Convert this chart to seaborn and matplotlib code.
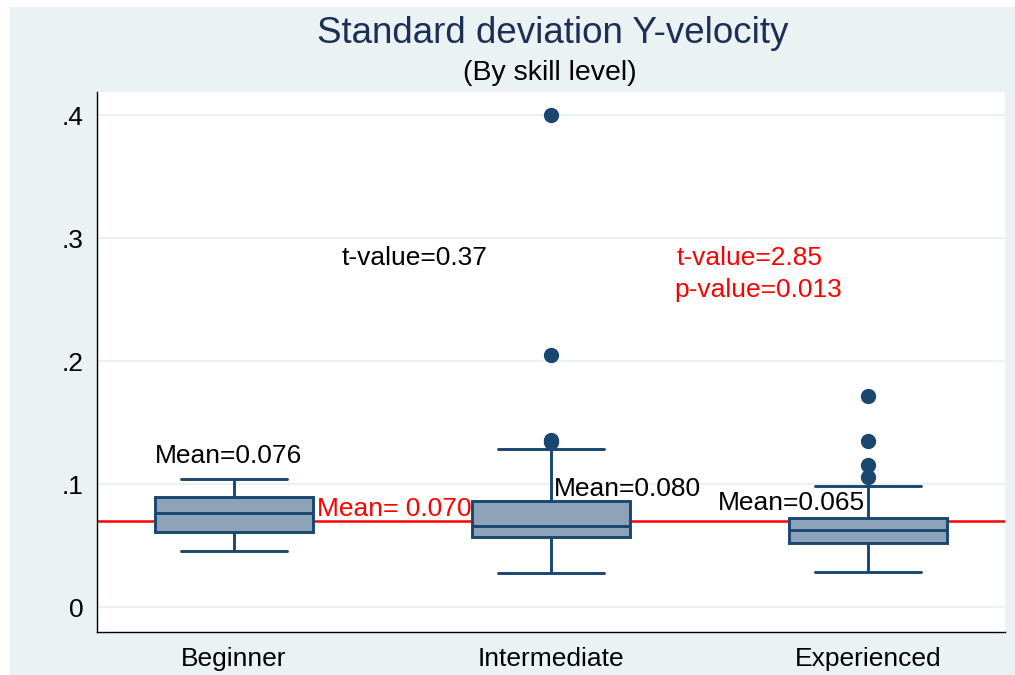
import matplotlib
matplotlib.use("Agg")
import matplotlib.pyplot as plt
from matplotlib.patches import Rectangle
import seaborn as sns
import pandas as pd

# skill levels and per-group values
levels = ["Beginner", "Intermediate", "Experienced"]
beginner = [0.0453, 0.055, 0.061, 0.070, 0.0767, 0.082, 0.0892, 0.097, 0.1043]
intermediate = [0.0276, 0.035, 0.042, 0.048, 0.053, 0.0567, 0.059, 0.061, 0.063,
                0.0645, 0.0656, 0.068, 0.072, 0.077, 0.082, 0.0862, 0.1282,
                0.134, 0.136, 0.205, 0.400]
experienced = [0.0282, 0.034, 0.040, 0.045, 0.049, 0.0518, 0.054, 0.056, 0.058,
               0.060, 0.0624, 0.064, 0.066, 0.068, 0.070, 0.0721, 0.0986,
               0.1054, 0.1154, 0.1352, 0.1715]
overall_mean = 0.070
group_means = ["Mean=0.076", "Mean=0.080", "Mean=0.065"]
ytick_vals = [0, 0.1, 0.2, 0.3, 0.4]
ytick_labels = ["0", ".1", ".2", ".3", ".4"]

df = pd.DataFrame({
    "level": [levels[0]] * len(beginner) + [levels[1]] * len(intermediate)
             + [levels[2]] * len(experienced),
    "sd_y": beginner + intermediate + experienced,
})

sns.set_style("white")
plt.rcParams["font.family"] = ["Liberation Sans", "DejaVu Sans"]
plt.rcParams["text.color"] = "black"
plt.rcParams["xtick.color"] = "black"
plt.rcParams["ytick.color"] = "black"

bg = "#EAF2F3"
navy = "#1A476F"
fill = "#8DA3B9"

fig = plt.figure(figsize=(10.15, 6.75), dpi=100, facecolor=bg)
# white strips along the left and top edge
fig.patches.append(Rectangle((0, 0), 10 / 1015, 1, transform=fig.transFigure,
                             facecolor="white", edgecolor="none"))
fig.patches.append(Rectangle((0, 1 - 7 / 675), 1, 7 / 675, transform=fig.transFigure,
                             facecolor="white", edgecolor="none"))
ax = fig.add_axes([0.0956, 0.0637, 0.8944, 0.80])
ax.set_facecolor("white")

ax.axhline(overall_mean, color="red", lw=1.8, zorder=0.9)

sns.boxplot(
    data=df, x="level", y="sd_y", order=levels, ax=ax,
    color=fill, saturation=1, linecolor=navy, linewidth=2.1, width=0.5,
    fliersize=10, capwidths=0.333,
    flierprops=dict(marker="o", markerfacecolor=navy, markeredgecolor=navy),
)

ax.set_xlim(-0.432, 2.432)
ax.set_ylim(-0.0203, 0.4187)
ax.set_yticks(ytick_vals)
ax.set_yticklabels(ytick_labels)
ax.set_xlabel("")
ax.set_ylabel("")
ax.grid(axis="y", color=bg, lw=1.6)
ax.set_axisbelow(True)
sns.despine(ax=ax)
for s in ["left", "bottom"]:
    ax.spines[s].set_color("black")
    ax.spines[s].set_linewidth(1)
ax.tick_params(axis="y", length=6, width=1, color="#333333", labelsize=19, pad=4)
ax.tick_params(axis="x", length=0, labelsize=19, pad=11)

# annotations
fs = 19
ax.text(-0.249, 0.1228, group_means[0], fontsize=fs, va="center", ha="left")
ax.text(0.262, 0.0797, "Mean= 0.070", fontsize=fs, color="red", va="center", ha="left")
ax.text(1.009, 0.0959, group_means[1], fontsize=fs, va="center", ha="left")
ax.text(1.527, 0.0846, group_means[2], fontsize=fs, va="center", ha="left")
ax.text(0.341, 0.2837, "t-value=0.37", fontsize=fs, va="center", ha="left")
ax.text(1.397, 0.2837, "t-value=2.85", fontsize=fs, color="red", va="center", ha="left")
ax.text(1.388, 0.2577, "p-value=0.013", fontsize=fs, color="red", va="center", ha="left")

fig.text(0.545, 0.950, "Standard deviation Y-velocity", fontsize=26.5,
         color="#1E2F56", ha="center", va="center")
fig.text(0.542, 0.892, "(By skill level)", fontsize=20.5, ha="center", va="center")

fig.savefig("out.png", dpi=100, facecolor=fig.get_facecolor())
